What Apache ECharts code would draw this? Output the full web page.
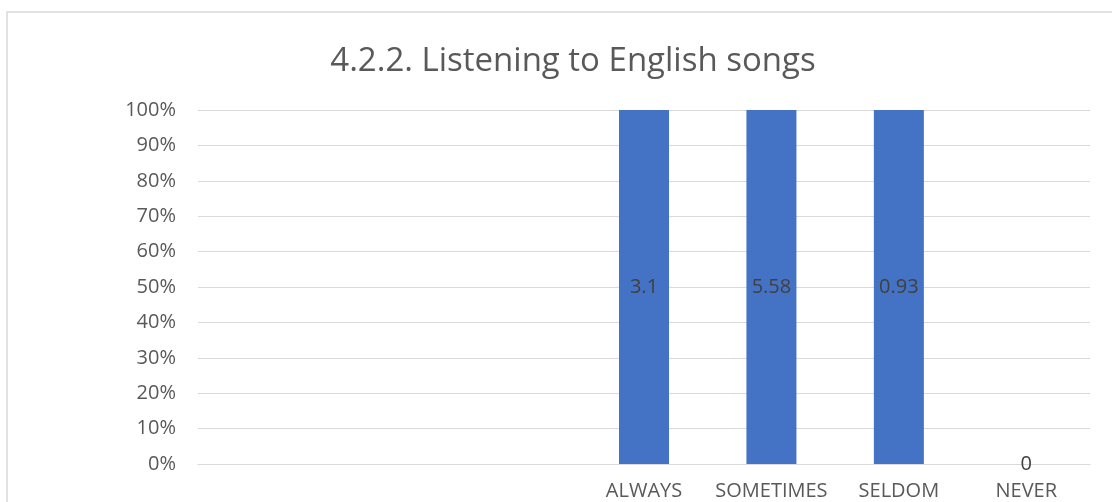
<!DOCTYPE html>
<html>
<head>
<meta charset="utf-8">
<script src="https://cdn.jsdelivr.net/npm/echarts@6/dist/echarts.min.js"></script>
<style>
html,body{margin:0;padding:0;background:#fff;}
#chart{width:1112px;height:502px;}
</style>
</head>
<body>
<div id="chart"></div>
<script>
// Data
const titleText = '4.2.2. Listening to English songs';
const categories = ['', '', '', 'ALWAYS', 'SOMETIMES', 'SELDOM', 'NEVER'];
const values = [null, null, null, 3.1, 5.58, 0.93, 0];
const yTicks = [0, 10, 20, 30, 40, 50, 60, 70, 80, 90, 100];

// 100% stacked: share of each category's total (single series)
const allSeries = [values];
const seriesData = values.map(function (v, i) {
  if (v === null) return null;
  let total = 0;
  allSeries.forEach(function (s) { if (s[i] !== null) total += s[i]; });
  return { value: total > 0 ? v / total * 100 : 0, raw: v };
});

const font = '"Open Sans", "Noto Sans", sans-serif';
const chart = echarts.init(document.getElementById('chart'), null, { renderer: 'canvas' });
chart.setOption({
  animation: false,
  backgroundColor: '#ffffff',
  title: {
    text: titleText,
    left: 568,
    top: 40,
    textAlign: 'center',
    textStyle: { fontFamily: font, fontSize: 33, fontWeight: 'normal', color: '#595959' }
  },
  graphic: [{
    type: 'rect',
    shape: { x: 7, y: 12, width: 1300, height: 700 },
    style: { fill: 'none', stroke: '#d9d9d9', lineWidth: 1.5 },
    silent: true
  }],
  grid: { left: 198, right: 22, top: 110, bottom: 38, containLabel: false },
  xAxis: {
    type: 'category',
    data: categories,
    axisLine: { show: true, lineStyle: { color: '#d9d9d9', width: 1 } },
    axisTick: { show: false },
    axisLabel: { interval: 0, margin: 17, fontFamily: font, fontSize: 20, color: '#595959' }
  },
  yAxis: {
    type: 'value',
    min: yTicks[0],
    max: yTicks[yTicks.length - 1],
    interval: yTicks[1] - yTicks[0],
    axisLine: { show: false },
    axisTick: { show: false },
    splitLine: { lineStyle: { color: '#d9d9d9', width: 1 } },
    axisLabel: { margin: 22, fontFamily: font, fontSize: 20, color: '#595959', formatter: '{value}%' }
  },
  series: [{
    type: 'bar',
    stack: 'total',
    data: seriesData,
    barWidth: 50,
    itemStyle: { color: '#4472c4' },
    label: {
      show: true,
      position: 'inside',
      fontFamily: font,
      fontSize: 20,
      color: '#404040',
      formatter: function (p) { return p.data && p.data.raw !== undefined ? String(p.data.raw) : ''; }
    }
  }]
});
</script>
</body>
</html>
